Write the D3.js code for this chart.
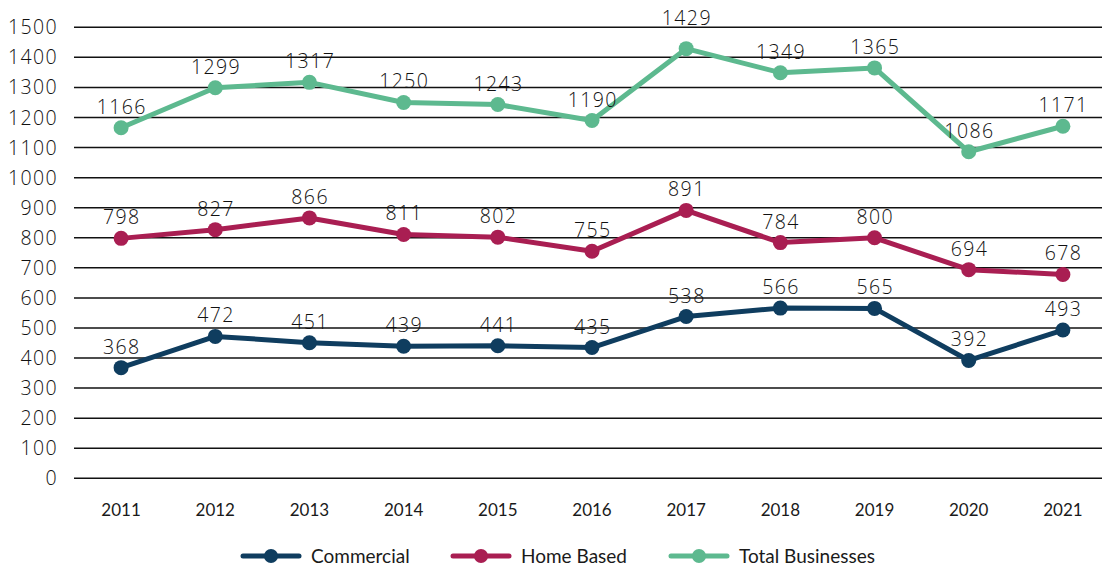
<!DOCTYPE html>
<html>
<head>
<meta charset="utf-8">
<script src="https://cdn.jsdelivr.net/npm/d3@7"></script>
<style>
  body { margin: 0; background: #fff; }
  svg { display: block; }
</style>
</head>
<body>
<svg width="1102" height="568"></svg>
<script>
const years = ['2011', '2012', '2013', '2014', '2015', '2016', '2017', '2018', '2019', '2020', '2021'];
const commercial = [368, 472, 451, 439, 441, 435, 538, 566, 565, 392, 493];
const homeBased = [798, 827, 866, 811, 802, 755, 891, 784, 800, 694, 678];
const totalBusinesses = [1166, 1299, 1317, 1250, 1243, 1190, 1429, 1349, 1365, 1086, 1171];
const yTicks = [0, 100, 200, 300, 400, 500, 600, 700, 800, 900, 1000, 1100, 1200, 1300, 1400, 1500];

const series = [
  {name: 'Commercial', values: commercial, color: '#0f3d5f'},
  {name: 'Home Based', values: homeBased, color: '#a91e52'},
  {name: 'Total Businesses', values: totalBusinesses, color: '#5db98f'}
];

const svg = d3.select('svg');
const numFont = '"Open Sans", sans-serif';
const catFont = 'Lato, sans-serif';

// the 2017 total label sits a bit higher in the original
function labelOffset(s, i) {
  return (s.name === 'Total Businesses' && years[i] === '2017') ? 31 : 21;
}

var x = d3.scaleBand()
  .domain(years)
  .range([74, 1110]);
var y = d3.scaleLinear()
  .domain([0, 1500])
  .range([478.3, 27.3]);

// gridlines
svg.append('g')
  .selectAll('line')
  .data(yTicks)
  .enter()
  .append('line')
  .attr('x1', 74)
  .attr('x2', 1102)
  .attr('y1', d => y(d))
  .attr('y2', d => y(d))
  .attr('stroke', '#111')
  .attr('stroke-width', 1.5);

// y axis labels
svg.append('g')
  .selectAll('text')
  .data(yTicks)
  .enter()
  .append('text')
  .attr('x', 58)
  .attr('y', d => y(d))
  .attr('dy', '0.36em')
  .attr('text-anchor', 'end')
  .style('font-family', numFont)
  .style('font-weight', 300)
  .style('font-size', '19.5px')
  .style('letter-spacing', '1.4px')
  .attr('fill', '#111')
  .text(d => d);

// x axis labels
svg.append('g')
  .selectAll('text')
  .data(years)
  .enter()
  .append('text')
  .attr('x', d => x(d) + x.bandwidth() / 2)
  .attr('y', 510)
  .attr('dy', '0.35em')
  .attr('text-anchor', 'middle')
  .style('font-family', catFont)
  .style('font-size', '17px')
  .attr('fill', '#1a1a1a')
  .text(d => d);

var line = d3.line()
  .x((d, i) => x(years[i]) + x.bandwidth() / 2)
  .y(d => y(d));

series.forEach(s => {
  var g = svg.append('g');
  g.append('path')
    .attr('d', line(s.values))
    .attr('fill', 'none')
    .attr('stroke', s.color)
    .attr('stroke-width', 5)
    .attr('stroke-linejoin', 'round')
    .attr('stroke-linecap', 'round');
  g.selectAll('circle')
    .data(s.values)
    .enter()
    .append('circle')
    .attr('cx', (d, i) => x(years[i]) + x.bandwidth() / 2)
    .attr('cy', d => y(d))
    .attr('r', 7.5)
    .attr('fill', s.color);
  g.selectAll('text')
    .data(s.values)
    .enter()
    .append('text')
    .attr('x', (d, i) => x(years[i]) + x.bandwidth() / 2 + 0.7)
    .attr('y', (d, i) => y(d) - labelOffset(s, i))
    .attr('dy', '0.36em')
    .attr('text-anchor', 'middle')
    .style('font-family', numFont)
    .style('font-weight', 300)
    .style('font-size', '19.5px')
    .style('letter-spacing', '1.4px')
    .attr('fill', '#111')
    .text(d => d);
});

// legend
var legendX = [243, 453, 671];
series.forEach((s, i) => {
  var lg = svg.append('g').attr('transform', 'translate(' + legendX[i] + ',556)');
  lg.append('line')
    .attr('x1', 0).attr('x2', 56)
    .attr('y1', 0).attr('y2', 0)
    .attr('stroke', s.color)
    .attr('stroke-width', 5)
    .attr('stroke-linecap', 'round');
  lg.append('circle')
    .attr('cx', 28).attr('cy', 0).attr('r', 7)
    .attr('fill', s.color);
  lg.append('text')
    .attr('x', 68).attr('y', 0)
    .attr('dy', '0.35em')
    .style('font-family', catFont)
    .style('font-size', '19px')
    .attr('fill', '#1a1a1a')
    .text(s.name);
});
</script>
</body>
</html>
